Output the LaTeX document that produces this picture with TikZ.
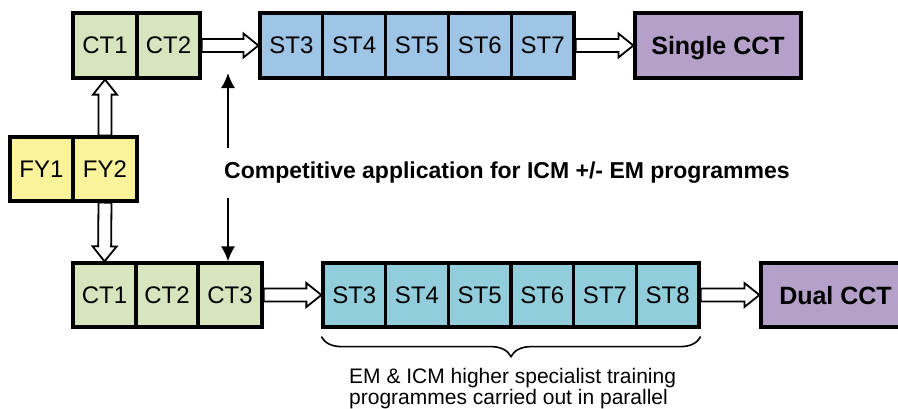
\documentclass[tikz,border=0pt]{standalone}
\usepackage{fontspec}
\setmainfont{Liberation Sans}
\usetikzlibrary{calc,arrows.meta,backgrounds,decorations.pathreplacing}
\definecolor{ctgreen}{RGB}{215,228,189}
\definecolor{stblue}{RGB}{158,196,230}
\definecolor{stteal}{RGB}{146,205,220}
\definecolor{cctpurple}{RGB}{180,160,200}
\definecolor{fyyellow}{RGB}{250,243,155}
\tikzset{
  cell/.style={draw=black, line width=3.2bp, inner sep=0pt, text depth=0pt,
    font=\fontsize{24bp}{28bp}\selectfont},
  ctcell/.style={cell, fill=ctgreen},
  stcell/.style={cell, fill=stblue, minimum width=62.8bp, minimum height=65bp},
  sttcell/.style={cell, fill=stteal, minimum width=62.7bp, minimum height=64bp},
  fycell/.style={cell, fill=fyyellow, minimum height=64bp},
  cctcell/.style={cell, fill=cctpurple, font=\bfseries\fontsize{25bp}{29bp}\selectfont},
  blockarrow/.style={draw=black, fill=white, line width=1.8bp, line join=miter},
  thinarrow/.style={draw=black, line width=1.8bp, -{Latex[length=15bp,width=14bp]}},
  bracestyle/.style={draw=black, line width=1.6bp, decorate, decoration={brace, amplitude=20bp}},
}
\newcommand{\blockarr}[2]{%
  \coordinate (ba-s) at (#1);
  \coordinate (ba-e) at (#2);
  \coordinate (ba-h) at ($(ba-e)!15bp!(ba-s)$);
  \draw[blockarrow] ($(ba-s)!6.5bp!90:(ba-e)$) -- ($(ba-h)!6.5bp!90:(ba-e)$)
    -- ($(ba-h)!12bp!90:(ba-e)$) -- (ba-e) -- ($(ba-h)!12bp!-90:(ba-e)$)
    -- ($(ba-h)!6.5bp!-90:(ba-e)$) -- ($(ba-s)!6.5bp!-90:(ba-e)$) -- cycle;
}
\begin{document}
\begin{tikzpicture}[x=1bp, y=-1bp]
\useasboundingbox (0,0) rectangle (898,408);
\clip (0,0) rectangle (898,408);

% top row
\node[ctcell, minimum width=64bp, minimum height=65bp] (ct1) at (105,45.5) {CT1};
\node[ctcell, minimum width=63bp, minimum height=65bp] (ct2) at (168.5,45.5) {CT2};
\node[stcell] (st3) at (291.4,45.5) {ST3};
\node[stcell] (st4) at (354.2,45.5) {ST4};
\node[stcell] (st5) at (417,45.5) {ST5};
\node[stcell] (st6) at (479.8,45.5) {ST6};
\node[stcell] (st7) at (542.6,45.5) {ST7};
\node[cctcell, minimum width=166bp, minimum height=65bp] (scct) at (718,45.5) {Single CCT};

% foundation years
\node[fycell, minimum width=63bp] (fy1) at (41.5,169) {FY1};
\node[fycell, minimum width=64bp] (fy2) at (105,169) {FY2};

% bottom row
\node[ctcell, minimum width=63bp, minimum height=64bp] (bct1) at (104.5,295) {CT1};
\node[ctcell, minimum width=62bp, minimum height=64bp] (bct2) at (167,295) {CT2};
\node[ctcell, minimum width=64bp, minimum height=64bp] (bct3) at (230,295) {CT3};
\node[sttcell] (bst3) at (354.3,295) {ST3};
\node[sttcell] (bst4) at (417,295) {ST4};
\node[sttcell] (bst5) at (479.7,295) {ST5};
\node[sttcell] (bst6) at (542.3,295) {ST6};
\node[sttcell] (bst7) at (605,295) {ST7};
\node[sttcell] (bst8) at (667.7,295) {ST8};
\node[cctcell, minimum width=149bp, minimum height=64bp] (dcct) at (835.5,295) {Dual CCT};

% competitive application text
\node[anchor=base west, inner sep=0pt, font=\bfseries\fontsize{23bp}{27bp}\selectfont] (comp) at (224,178)
  {Competitive application for ICM +/- EM programmes};

% thin arrows
\coordinate (tup) at (228,73);
\coordinate (ta) at (228,148);
\coordinate (tb) at (228,198);
\draw[thinarrow] (ta) -- (tup);
\draw[thinarrow] (tb) -- (tb |- bct3.north);

% block arrows (behind boxes)
\begin{scope}[on background layer]
  \blockarr{ct2.east}{st3.west}
  \blockarr{st7.east}{scct.west}
  \blockarr{fy2.north}{ct1.south}
  \blockarr{fy2.south}{bct1.north}
  \blockarr{bct3.east}{bst3.west}
  \blockarr{bst8.east}{dcct.west}
\end{scope}

% brace and caption
\draw[bracestyle] ($(bst8.south east)+(0,8)$) -- ($(bst3.south west)+(0,8)$);
\node[anchor=base west, inner sep=0pt, font=\fontsize{21bp}{25bp}\selectfont] (cap1) at (349,383)
  {EM \& ICM higher specialist training};
\node[anchor=base west, inner sep=0pt, font=\fontsize{21bp}{25bp}\selectfont] (cap2) at (349,404)
  {programmes carried out in parallel};
\end{tikzpicture}
\end{document}
